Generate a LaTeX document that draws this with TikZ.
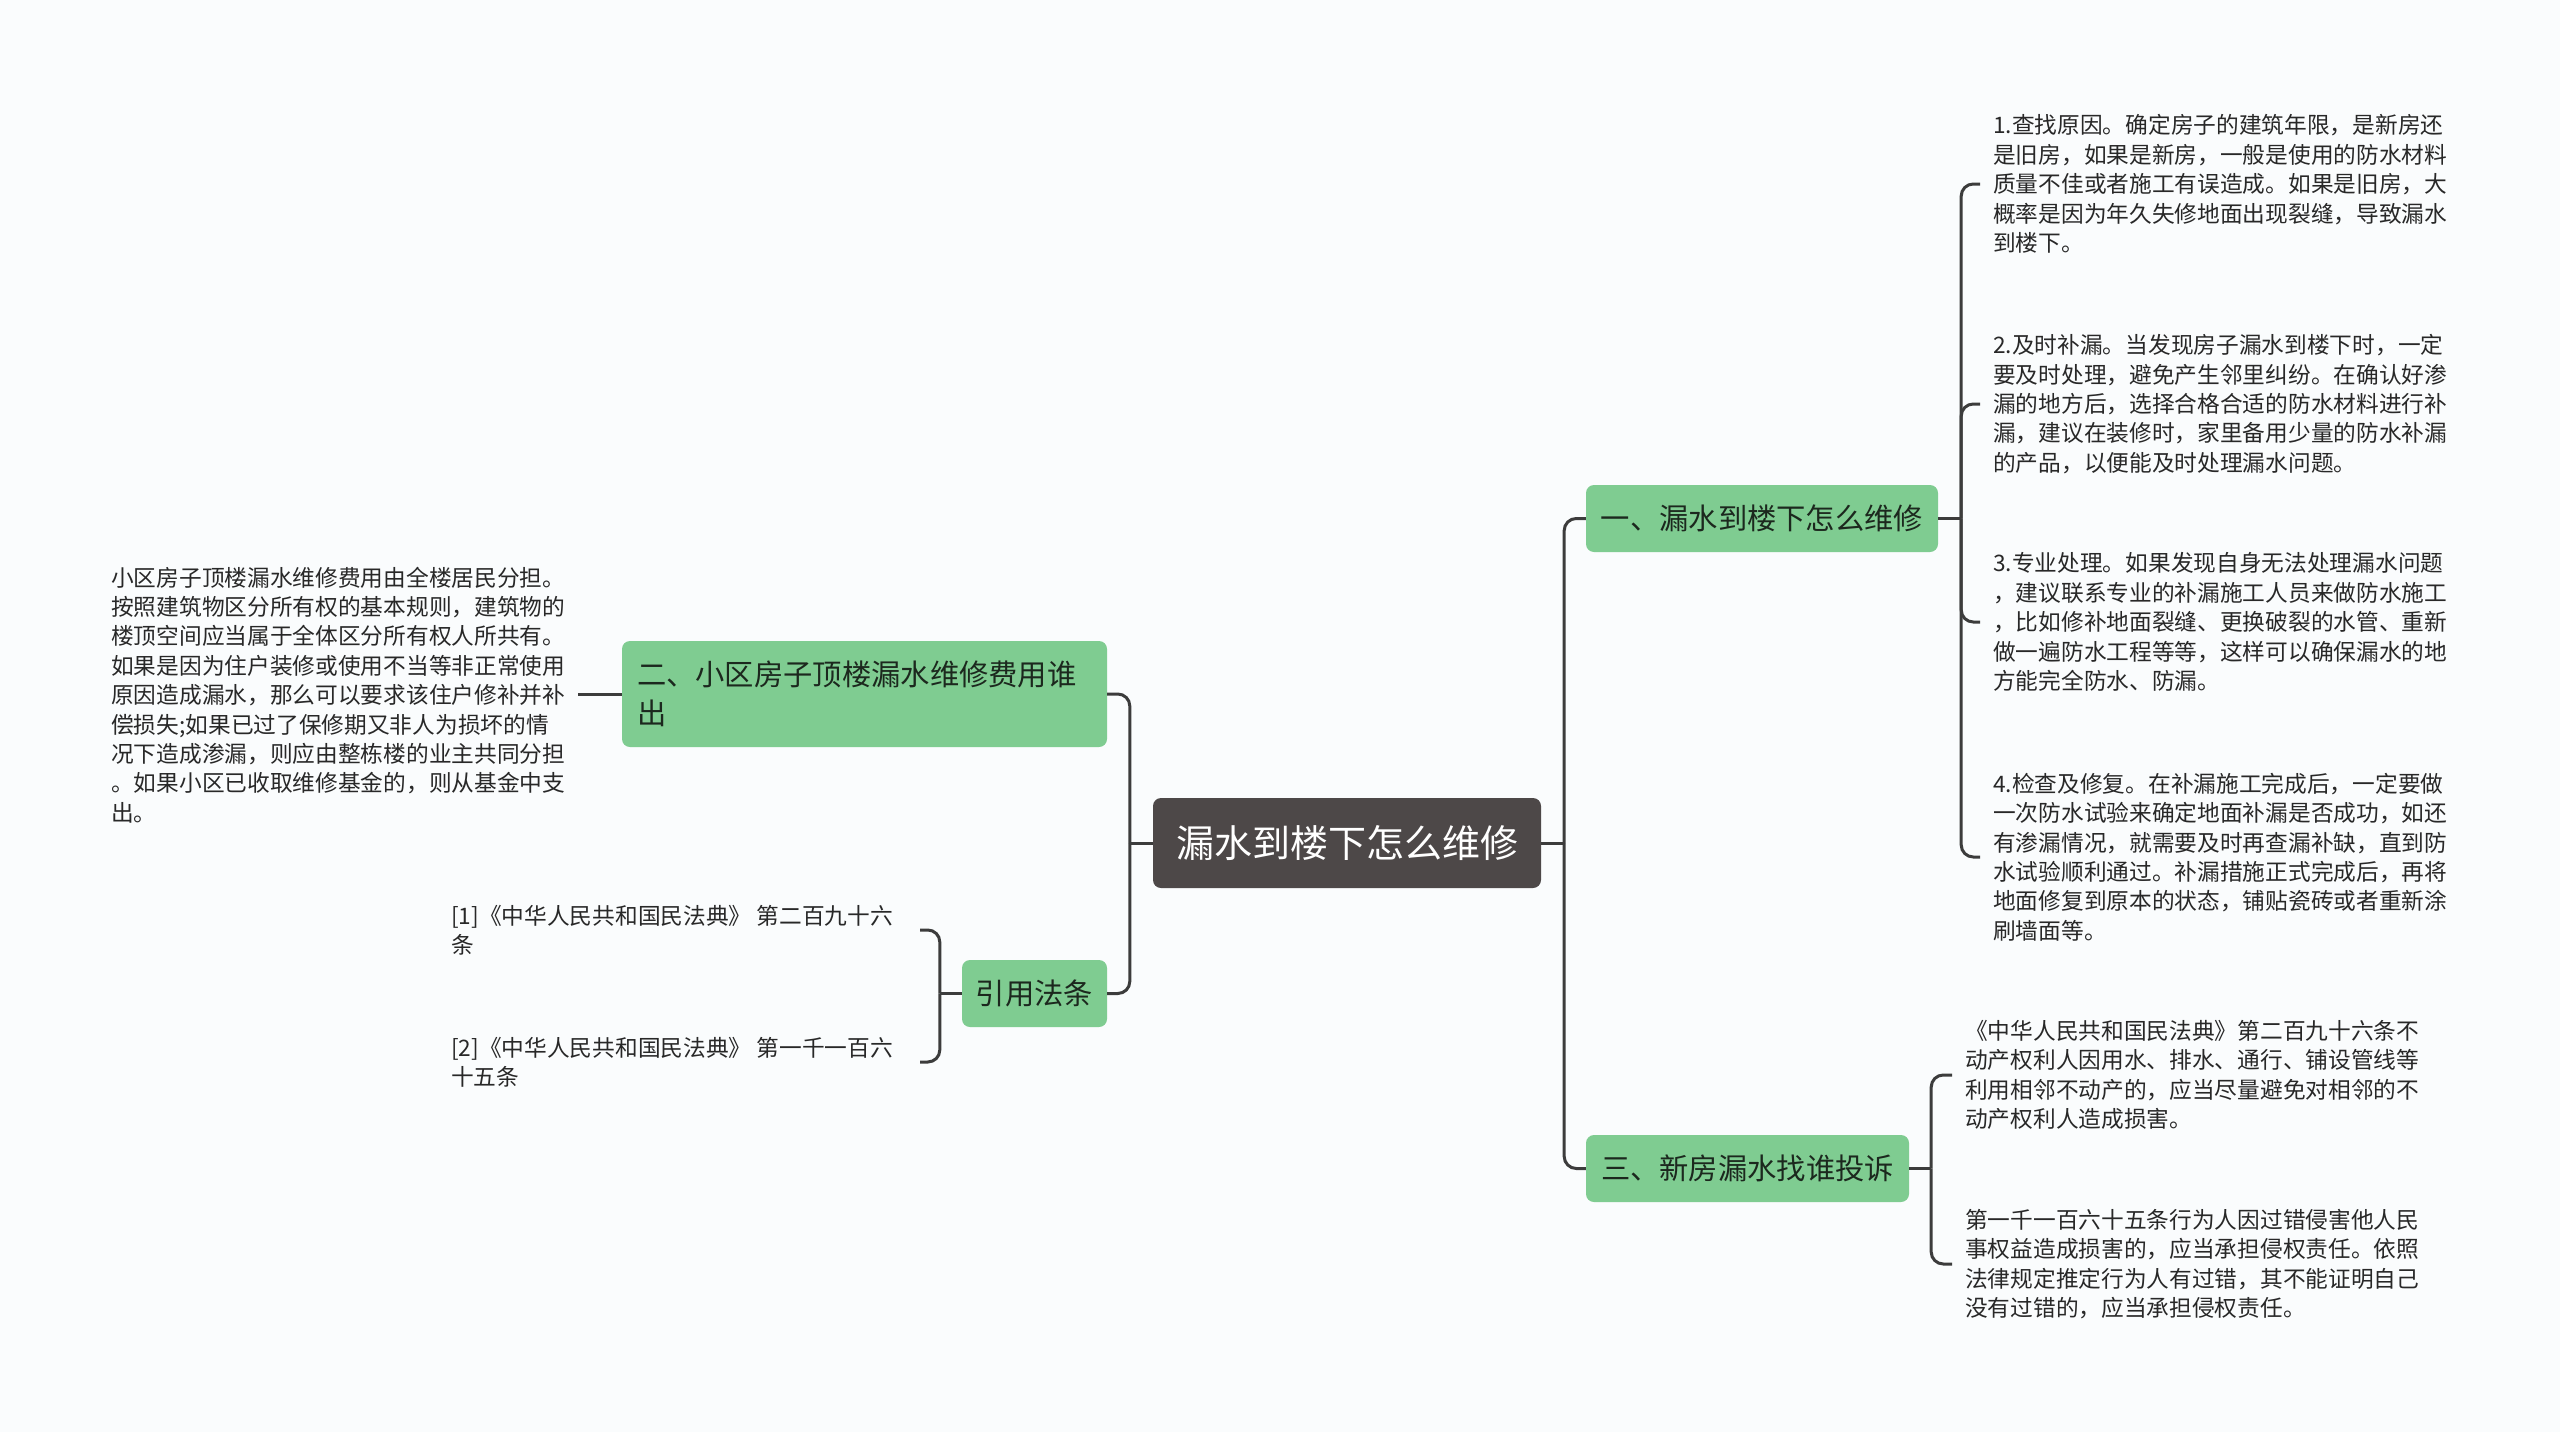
\documentclass[tikz,border=0pt]{standalone}
\usepackage{fontspec}
\newfontfamily\cjk{Noto Sans CJK SC}
\usetikzlibrary{calc}
\definecolor{bg}{RGB}{250,252,253}
\definecolor{grn}{RGB}{127,204,145}
\definecolor{grntxt}{RGB}{28,40,30}
\definecolor{ctrfill}{RGB}{77,72,72}
\definecolor{lin}{RGB}{60,60,60}
\definecolor{leaftxt}{RGB}{40,40,40}
\begin{document}
\begin{tikzpicture}[x=1pt,y=-1pt,
  conn/.style={draw=lin,line width=3pt,rounded corners=12pt},
  topic/.style={fill=grn,rounded corners=8pt,text=grntxt,font=\cjk\fontsize{29.3}{39}\selectfont,inner sep=0pt,align=center},
  leaf/.style={text=leaftxt,font=\cjk\fontsize{22.7}{29.4}\selectfont,inner sep=0pt,align=left,anchor=west},
]
\fill[bg] (0,0) rectangle (2560,1432);
\useasboundingbox (0,0) rectangle (2560,1432);

% main nodes
\node[fill=ctrfill,rounded corners=8pt,text=white,font=\cjk\fontsize{38}{44}\selectfont,minimum width=388pt,minimum height=90pt,inner sep=0pt] (ctr) at (1347,843) {漏水到楼下怎么维修};
\node[topic,minimum width=352pt,minimum height=67pt] (n1) at (1762,518.5) {一、漏水到楼下怎么维修};
\node[topic,minimum width=323pt,minimum height=67pt] (n3) at (1747.5,1168.5) {三、新房漏水找谁投诉};
\node[topic,minimum width=145pt,minimum height=67pt] (cite) at (1034.5,993.5) {引用法条};
\node[topic,text width=455pt,align=left,minimum height=106pt,inner xsep=15pt] (n2) at (864.5,694) {二、小区房子顶楼漏水维修费用谁\\出};

% leaves right (branch 1)
\node[leaf] (t1) at (1993,184) {1.查找原因。确定房子的建筑年限，是新房还\\是旧房，如果是新房，一般是使用的防水材料\\质量不佳或者施工有误造成。如果是旧房，大\\概率是因为年久失修地面出现裂缝，导致漏水\\到楼下。};
\node[leaf] (t2) at (1993,404) {2.及时补漏。当发现房子漏水到楼下时，一定\\要及时处理，避免产生邻里纠纷。在确认好渗\\漏的地方后，选择合格合适的防水材料进行补\\漏，建议在装修时，家里备用少量的防水补漏\\的产品，以便能及时处理漏水问题。};
\node[leaf] (t3) at (1993,622) {3.专业处理。如果发现自身无法处理漏水问题\\，建议联系专业的补漏施工人员来做防水施工\\，比如修补地面裂缝、更换破裂的水管、重新\\做一遍防水工程等等，这样可以确保漏水的地\\方能完全防水、防漏。};
\node[leaf] (t4) at (1993,857) {4.检查及修复。在补漏施工完成后，一定要做\\一次防水试验来确定地面补漏是否成功，如还\\有渗漏情况，就需要及时再查漏补缺，直到防\\水试验顺利通过。补漏措施正式完成后，再将\\地面修复到原本的状态，铺贴瓷砖或者重新涂\\刷墙面等。};

% leaves right (branch 3)
\node[leaf] (t5) at (1965,1075) {《中华人民共和国民法典》第二百九十六条不\\动产权利人因用水、排水、通行、铺设管线等\\利用相邻不动产的，应当尽量避免对相邻的不\\动产权利人造成损害。};
\node[leaf] (t6) at (1965,1264) {第一千一百六十五条行为人因过错侵害他人民\\事权益造成损害的，应当承担侵权责任。依照\\法律规定推定行为人有过错，其不能证明自己\\没有过错的，应当承担侵权责任。};

% leaf left (branch 2)
\node[leaf] (tl) at (111,695) {小区房子顶楼漏水维修费用由全楼居民分担。\\按照建筑物区分所有权的基本规则，建筑物的\\楼顶空间应当属于全体区分所有权人所共有。\\如果是因为住户装修或使用不当等非正常使用\\原因造成漏水，那么可以要求该住户修补并补\\偿损失;如果已过了保修期又非人为损坏的情\\况下造成渗漏，则应由整栋楼的业主共同分担\\。如果小区已收取维修基金的，则从基金中支\\出。};

% citations
\node[leaf] (c1) at (451,930) {[1]《中华人民共和国民法典》 第二百九十六\\条};
\node[leaf] (c2) at (451,1062) {[2]《中华人民共和国民法典》 第一千一百六\\十五条};

% connectors: centre
\draw[conn] (ctr.east) -- ++(23,0) coordinate (jr);
\draw[conn] (jr) |- (n1.west);
\draw[conn] (jr) |- (n3.west);
\draw[conn] (ctr.west) -- ++(-23,0) coordinate (jl);
\draw[conn] (jl) |- (n2.east);
\draw[conn] (jl) |- (cite.east);

% branch 1
\draw[conn] (n1.east) -- ++(23,0) coordinate (j1);
\foreach \t in {t1,t2,t3,t4} \draw[conn] (j1) |- ($(\t.west)+(-13,0)$);

% branch 3
\draw[conn] (n3.east) -- ++(22,0) coordinate (j3);
\foreach \t in {t5,t6} \draw[conn] (j3) |- ($(\t.west)+(-13,0)$);

% branch 2
\draw[conn] (n2.west) -- ++(-44,0);

% citations
\draw[conn] (cite.west) -- ++(-22,0) coordinate (jc);
\draw[conn] (jc) |- ($(c1.west)+(469,0)$);
\draw[conn] (jc) |- ($(c2.west)+(469,0)$);
\end{tikzpicture}
\end{document}
